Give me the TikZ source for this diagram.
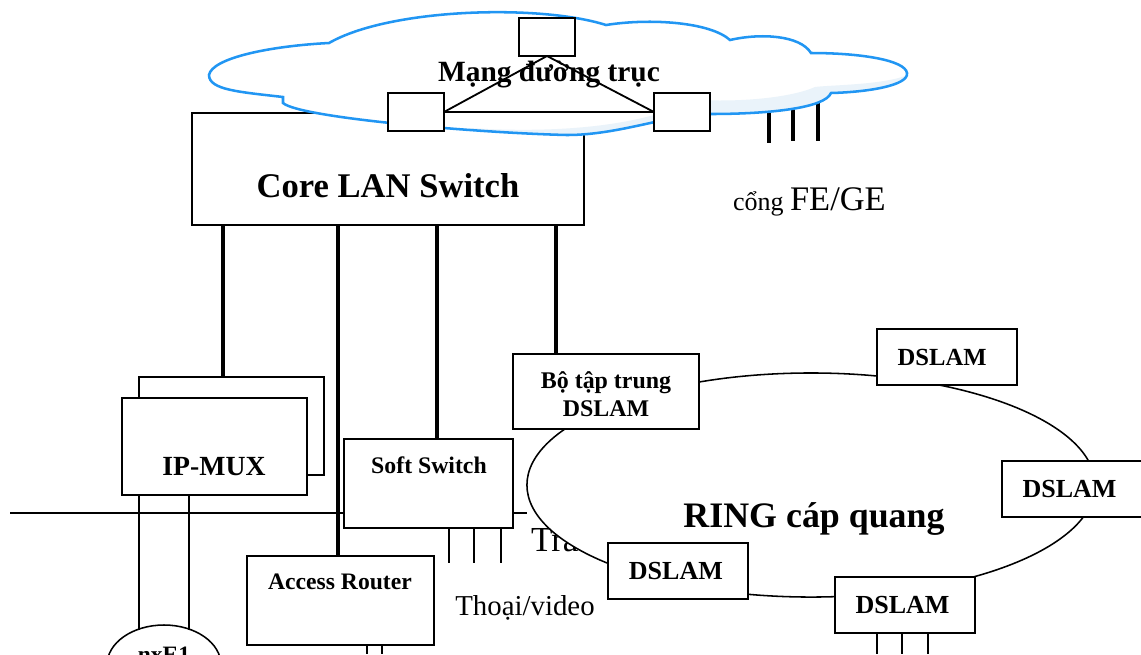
\documentclass[tikz,border=0pt]{standalone}
\usepackage{fontspec}
\setmainfont{Liberation Serif}
\usepackage{xcolor}
\usepackage{tikz}
\usetikzlibrary{shapes.geometric}
\definecolor{cloudblue}{RGB}{33,150,243}
\definecolor{cloudshade}{RGB}{234,243,250}
\newcommand{\sz}[1]{\fontsize{#1}{19.5}\selectfont}
\newcommand{\cloudpath}{(209,75) .. controls (212,58) and (270,46) .. (329,43)
  .. controls (390,8) and (540,4) .. (606,25)
  .. controls (650,18) and (710,22) .. (730,40)
  .. controls (760,33) and (800,35) .. (811,53)
  .. controls (860,53) and (905,60) .. (907,73)
  .. controls (909,85) and (870,92) .. (831,93)
  .. controls (825,108) and (770,114) .. (710,114)
  .. controls (670,114) and (620,135) .. (567,135)
  .. controls (480,133) and (300,118) .. (283,103)
  -- (283,97)
  .. controls (240,92) and (209,90) .. (209,75) -- cycle}
\tikzset{thin line/.style={line width=1.1pt},
         thick line/.style={line width=3.4pt},
         box/.style={draw,fill=white,line width=1.1pt,inner sep=0pt,outer sep=0pt},
         dslam/.style={box,minimum width=3.5cm,minimum height=1.4cm,font=\bfseries\sz{18.5}},
         router/.style={box,minimum width=1.4cm,minimum height=0.95cm},
         caption/.style={inner sep=0pt,outer sep=0pt}}
\begin{document}
\begin{tikzpicture}[x=0.025cm,y=-0.025cm]
\useasboundingbox (0,0) rectangle (1141,654);
\clip (0,0) rectangle (1141,654);
\node[box,minimum width=9.8cm,minimum height=2.8cm,anchor=north west] (core) at (192,113) {};
\node[caption,font=\bfseries\sz{24.6}] (corelbl) at (388,186) {Core LAN Switch};
\coordinate (tick1) at (769,143);
\coordinate (tick2) at (793,141);
\coordinate (tick3) at (818,141);
\draw[line width=3.2pt] (769,100) -- (tick1);
\draw[line width=3.2pt] (793,100) -- (tick2);
\draw[line width=3.2pt] (818,100) -- (tick3);
% cloud
\fill[white] \cloudpath;
\begin{scope}
\clip \cloudpath;
\fill[cloudshade] (905,76) .. controls (880,85) and (830,85) .. (815,87)
  .. controls (790,98) and (740,102) .. (700,100) -- (654,115)
  .. controls (600,130) and (530,132) .. (470,128) -- (470,150) -- (920,150) -- cycle;
\end{scope}
\draw[cloudblue,line width=1.8pt] \cloudpath;
\node[caption,font=\bfseries\sz{20.9}] (backbone) at (549,75) {Mạng đường trục};
\node[router] (rtop) at (547,37) {};
\node[router] (rleft) at (416,112) {};
\node[router] (rright) at (682,112) {};
\draw[line width=1.3pt] (rtop.south) -- (rleft.east);
\draw[line width=1.3pt] (rtop.south) -- (rright.west);
\draw[line width=1.3pt] (rleft.east) -- (rright.west);
\node[caption,anchor=base west] (feports) at (733,210) {\sz{18.5}cổng \sz{24.5}FE/GE};
% bus
\coordinate (busend) at (10,513);
\node[caption,font=\sz{25},anchor=base west] (trunk) at (531,551) {Tra};
\node[draw,fill=white,ellipse,line width=1.1pt,minimum width=14.2cm,minimum height=5.6cm,inner sep=0pt,outer sep=0pt] (ring) at (811,485) {};
\node[caption,font=\bfseries\sz{25.5}] (ringlbl) at (814,519) {RING cáp quang};
% ip-mux
\node[box,minimum width=4.625cm,minimum height=2.45cm,anchor=north west] (muxrear) at (139,377) {};
\node[box,minimum width=4.625cm,minimum height=2.425cm,anchor=north west] (muxfront) at (122,398) {};
\node[caption,font=\bfseries\sz{19.7}] (muxlbl) at (214,467) {IP-MUX};
\node[box,minimum width=4.225cm,minimum height=2.225cm,anchor=north west] (soft) at (344,439) {};
\node[caption,font=\bfseries\sz{16.9}] (softlbl) at (429,465) {Soft Switch};
\node[box,minimum width=4.675cm,minimum height=2.225cm,anchor=north west] (access) at (247,556) {};
\node[caption,font=\bfseries\sz{16.8}] (accesslbl) at (340,582) {Access Router};
\node[caption,font=\sz{20.5}] (voice) at (525,608) {Thoại/video};
\node[draw,fill=white,ellipse,line width=1.1pt,minimum width=2.85cm,minimum height=2cm,inner sep=0pt,outer sep=0pt] (nxe) at (164,665) {};
\node[caption,font=\bfseries\sz{16.7}] (nxelbl) at (164,655) {nxE1};
\draw[thin line] (busend) -- (soft.west |- busend);
\draw[thin line] (soft.east |- busend) -- (ring.west |- busend);
% bo tap trung
\node[box,minimum width=4.65cm,minimum height=1.875cm,anchor=north west] (conc) at (513,354) {};
\node[caption,align=center,font=\bfseries\sz{17}] (conclbl) at (606,394) {Bộ tập trung\\DSLAM};
\node[dslam,font=\bfseries\sz{17.5}] (dsl1) at (947,357) {DSLAM\kern7pt};
\node[dslam] (dsl2) at (1072,489) {DSLAM\kern3.5pt};
\node[dslam] (dsl3) at (905,605) {DSLAM\kern3.5pt};
\node[dslam] (dsl4) at (678,571) {DSLAM\kern3pt};
% connectors
\coordinate (up1) at (223,225);
\coordinate (up2) at (338,225);
\coordinate (up3) at (437,225);
\coordinate (up4) at (556,225);
\draw[thick line] (up1) -- (up1 |- muxrear.north);
\draw[thick line] (up2) -- (up2 |- access.north);
\draw[thick line] (up3) -- (up3 |- soft.north);
\draw[thick line] (up4) -- (up4 |- conc.north);
\coordinate (e1a) at (139,630);
\coordinate (e1b) at (189,630);
\draw[thin line] (muxfront.south -| e1a) -- (e1a);
\draw[thin line] (muxfront.south -| e1b) -- (e1b);
\coordinate (tel1) at (449,563);
\coordinate (tel2) at (474,563);
\coordinate (tel3) at (501,563);
\draw[thin line] (soft.south -| tel1) -- (tel1);
\draw[thin line] (soft.south -| tel2) -- (tel2);
\draw[thin line] (soft.south -| tel3) -- (tel3);
\coordinate (out1) at (367,654);
\coordinate (out2) at (382,654);
\draw[thin line] (access.south -| out1) -- (out1);
\draw[thin line] (access.south -| out2) -- (out2);
\coordinate (sub1) at (877,654);
\coordinate (sub2) at (902,654);
\coordinate (sub3) at (928,654);
\draw[thin line] (dsl3.south -| sub1) -- (sub1);
\draw[thin line] (dsl3.south -| sub2) -- (sub2);
\draw[thin line] (dsl3.south -| sub3) -- (sub3);
\end{tikzpicture}
\end{document}
